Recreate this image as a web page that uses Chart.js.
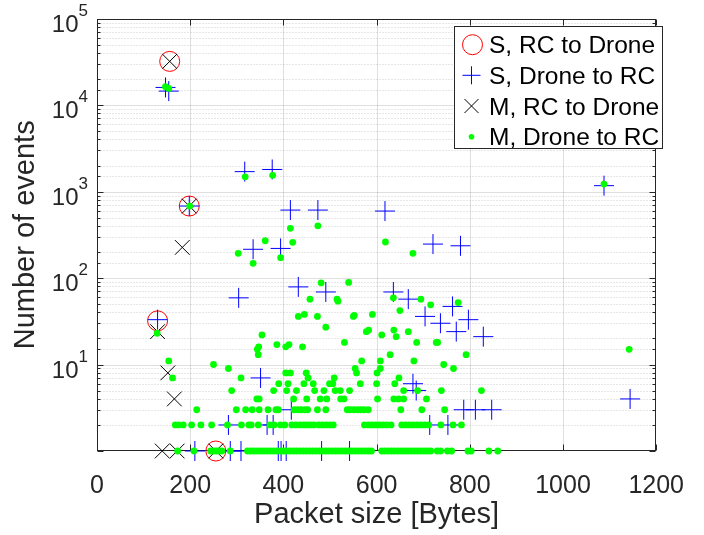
<!DOCTYPE html>
<html>
<head>
<meta charset="utf-8">
<script src="https://cdn.jsdelivr.net/npm/chart.js@4.4.0/dist/chart.umd.min.js"></script>
<style>
  html, body { margin: 0; padding: 0; background: #fff; }
</style>
</head>
<body>
<canvas id="chart" width="704" height="535"></canvas>
<script>
// S, RC to Drone (red circles)
const sRcX = [156, 198, 130, 255];
const sRcY = [32000, 680, 32, 1];

// S, Drone to RC (blue plus)
const sDroneX = [147, 154, 317, 376, 198, 415, 474, 618, 721, 780,
  335, 394, 130, 304, 432, 491, 636, 668, 763, 704,
  737, 797, 771, 829, 351, 678, 685, 417, 787, 812,
  847, 282, 365, 378, 714, 753, 210, 286, 309, 389,
  395, 406, 482, 542, 1088, 1144];
const sDroneY = [16000, 14500, 1700, 1800, 680, 611, 611, 595, 247, 236,
  215, 220, 33, 59, 79, 69, 69, 57, 47, 36,
  30, 33, 24, 21, 7, 6, 5, 3, 3, 3,
  3, 2, 2, 2, 2, 2, 1, 1, 1, 1,
  1, 1, 1, 1, 1170, 4];

// M, RC to Drone (black x)
const mRcX = [156, 198, 130, 183, 152, 166, 140, 172, 255];
const mRcY = [32000, 680, 24, 226, 8, 4, 1, 1, 1];

// M, Drone to RC (green dots), scattered ones
const mDroneX = [147, 154, 318, 377, 199, 1088, 1142,
  415, 474, 361, 420, 619, 303, 678, 335, 394,
  481, 540, 457, 515, 517, 636, 695, 716, 775, 650,
  432, 445, 473, 550, 552, 591, 491, 578, 583, 611, 637, 642, 668, 354, 129,
  347, 344, 346, 386, 405, 412, 441, 531, 686, 728, 731, 629, 792,
  154, 250, 282, 568, 608, 680, 744, 765, 554, 557, 601, 608,
  162, 309, 405, 415, 449, 453, 648, 509];
const mDroneY = [16300, 15600, 1480, 1540, 680, 1220, 15,
  376, 402, 270, 259, 261, 193, 193, 148, 172,
  88, 89, 57, 57, 54, 59, 57, 49, 52, 42,
  36, 38, 36, 36, 37, 38, 27, 24, 25, 22, 25, 21, 24, 22, 23,
  16, 15, 13, 17, 16, 17, 16, 18, 18, 18, 18, 13, 13,
  11, 10, 9, 11, 11, 11, 10, 9, 9, 8, 8, 9,
  7, 7, 8, 8, 8, 7, 7, 7];

// green dots sitting on the low count rows
const mDroneAt6 = [390, 410, 444, 464, 499, 506, 565, 600, 639];
const mDroneAt5 = [289, 379, 407, 428, 467, 487, 511, 522, 542, 658, 688, 739, 825];
const mDroneAt4 = [343, 348, 422, 450, 479, 493, 523, 530, 602, 637, 647, 658, 707];
const mDroneAt3 = [214, 299, 319, 333, 348, 367, 384, 389, 423, 431, 438, 446, 452, 473, 491,
  537, 543, 551, 559, 566, 573, 582, 652, 697, 746];
const mDroneAt2 = [168, 175, 185, 203, 223, 246, 280, 310, 326, 331, 346, 371, 380, 394, 403,
  418, 427, 436, 444, 451, 458, 465, 476, 484, 492, 500, 507, 574, 582, 590,
  598, 606, 614, 622, 631, 654, 662, 670, 678, 687, 695, 703, 712, 738, 764, 782];
const mDroneAt1 = [173, 208, 244, 250, 256, 262, 268, 286,
  323, 330, 337, 344, 351, 358, 365, 372, 379, 386, 393, 400, 407, 414, 421, 428,
  435, 442, 449, 456, 463, 470, 477, 484, 491, 498, 505, 512, 519, 526, 533, 540,
  547, 554, 561, 568, 575, 582, 589, 611, 618, 625, 632, 639, 646, 653, 660, 667,
  674, 681, 688, 695, 702, 709, 716, 730, 737, 752, 761, 796, 803, 841, 860];

const xTicks = [0, 200, 400, 600, 800, 1000, 1200];
const yDecades = [10, 100, 1000, 10000, 100000];

const AXIS = "#262626";
const FONT = "'Liberation Sans', Arial, Helvetica, sans-serif";

function pairs(xs, ys) {
  return xs.map((x, i) => ({ x, y: ys[i] }));
}

function row(xs, y) {
  return xs.map((x) => ({ x, y }));
}

const greenPoints = pairs(mDroneX, mDroneY)
  .concat(row(mDroneAt6, 6), row(mDroneAt5, 5), row(mDroneAt4, 4))
  .concat(row(mDroneAt3, 3), row(mDroneAt2, 2), row(mDroneAt1, 1));

function isDecade(v) {
  const l = Math.log10(v);
  return Math.abs(l - Math.round(l)) < 1e-9;
}

// grid, box and inward ticks, MATLAB style
const axesPlugin = {
  id: "axesBox",
  beforeDatasetsDraw(chart) {
    const { ctx, chartArea: a, scales: { x, y } } = chart;
    const L = Math.round(a.left) + 0.5, R = Math.round(a.right) - 0.5;
    const T = Math.round(a.top) + 0.5, B = Math.round(a.bottom) - 0.5;
    ctx.save();
    ctx.lineWidth = 1;

    y.ticks.forEach((t) => {
      const py = Math.round(y.getPixelForValue(t.value)) + 0.5;
      if (py <= T + 1 || py >= B - 1) return;
      ctx.beginPath();
      if (isDecade(t.value)) {
        ctx.setLineDash([]);
        ctx.strokeStyle = "rgba(38,38,38,0.15)";
      } else {
        ctx.setLineDash([1, 2]);
        ctx.strokeStyle = "rgba(38,38,38,0.22)";
      }
      ctx.moveTo(L, py);
      ctx.lineTo(R, py);
      ctx.stroke();
    });
    ctx.setLineDash([]);
    ctx.strokeStyle = "rgba(38,38,38,0.15)";
    x.ticks.forEach((t) => {
      const px = Math.round(x.getPixelForValue(t.value)) + 0.5;
      if (px <= L + 1 || px >= R - 1) return;
      ctx.beginPath();
      ctx.moveTo(px, T);
      ctx.lineTo(px, B);
      ctx.stroke();
    });

    // box
    ctx.strokeStyle = AXIS;
    ctx.strokeRect(L, T, R - L, B - T);

    // inward ticks
    ctx.beginPath();
    y.ticks.forEach((t) => {
      const py = Math.round(y.getPixelForValue(t.value)) + 0.5;
      const len = isDecade(t.value) ? 6 : 3;
      ctx.moveTo(L, py); ctx.lineTo(L + len, py);
      ctx.moveTo(R, py); ctx.lineTo(R - len, py);
    });
    x.ticks.forEach((t) => {
      const px = Math.round(x.getPixelForValue(t.value)) + 0.5;
      ctx.moveTo(px, B); ctx.lineTo(px, B - 6);
      ctx.moveTo(px, T); ctx.lineTo(px, T + 6);
    });
    ctx.stroke();

    // y labels as 10^n
    ctx.fillStyle = AXIS;
    ctx.textAlign = "right";
    ctx.textBaseline = "alphabetic";
    yDecades.forEach((v) => {
      const py = y.getPixelForValue(v);
      const exp = String(Math.round(Math.log10(v)));
      ctx.font = `17px ${FONT}`;
      const ew = ctx.measureText(exp).width;
      ctx.fillText(exp, 88, py - 3);
      ctx.font = `24px ${FONT}`;
      ctx.fillText("10", 88 - ew, py + 13);
    });
    ctx.restore();
  }
};

const legendPlugin = {
  id: "boxLegend",
  afterDraw(chart) {
    const { ctx } = chart;
    const labels = chart.data.datasets.map((d) => d.label);
    ctx.save();
    ctx.fillStyle = "#fff";
    ctx.fillRect(454.5, 26.5, 208, 122);
    ctx.strokeStyle = AXIS;
    ctx.lineWidth = 1;
    ctx.strokeRect(454.5, 26.5, 208, 122);

    const mx = 471.5;
    const rows = [44.7, 75.3, 106, 136.7];
    // circle
    ctx.strokeStyle = "#ff0000";
    ctx.beginPath();
    ctx.arc(mx + 1, rows[0], 10, 0, Math.PI * 2);
    ctx.stroke();
    // plus
    ctx.strokeStyle = "#0000ff";
    ctx.beginPath();
    ctx.moveTo(mx - 9, rows[1]); ctx.lineTo(mx + 9, rows[1]);
    ctx.moveTo(mx, rows[1] - 9); ctx.lineTo(mx, rows[1] + 9);
    ctx.stroke();
    // x
    ctx.strokeStyle = "#000";
    ctx.beginPath();
    ctx.moveTo(mx - 7, rows[2] - 7); ctx.lineTo(mx + 7, rows[2] + 7);
    ctx.moveTo(mx + 7, rows[2] - 7); ctx.lineTo(mx - 7, rows[2] + 7);
    ctx.stroke();
    // dot
    ctx.fillStyle = "#00ff00";
    ctx.beginPath();
    ctx.arc(mx, rows[3], 2.8, 0, Math.PI * 2);
    ctx.fill();

    ctx.fillStyle = "#000";
    ctx.font = `24.5px ${FONT}`;
    ctx.textAlign = "left";
    ctx.textBaseline = "alphabetic";
    labels.forEach((text, i) => ctx.fillText(text, 489, rows[i] + 8.6));
    ctx.restore();
  }
};

new Chart(document.getElementById("chart"), {
  type: "scatter",
  data: {
    datasets: [
      {
        label: "S, RC to Drone",
        data: pairs(sRcX, sRcY),
        pointStyle: "circle",
        pointRadius: 10,
        borderColor: "#ff0000",
        backgroundColor: "rgba(0,0,0,0)",
        borderWidth: 1,
        order: 3,
        clip: false
      },
      {
        label: "S, Drone to RC",
        data: pairs(sDroneX, sDroneY),
        pointStyle: "cross",
        pointRadius: 10,
        borderColor: "#0000ff",
        backgroundColor: "#0000ff",
        borderWidth: 1,
        order: 2,
        clip: false
      },
      {
        label: "M, RC to Drone",
        data: pairs(mRcX, mRcY),
        pointStyle: "crossRot",
        pointRadius: 10.4,
        borderColor: "#000000",
        backgroundColor: "#000000",
        borderWidth: 1,
        order: 1,
        clip: false
      },
      {
        label: "M, Drone to RC",
        data: greenPoints,
        pointStyle: "circle",
        pointRadius: 3.4,
        borderWidth: 0,
        borderColor: "#00ff00",
        backgroundColor: "#00ff00",
        order: 0,
        clip: false
      }
    ]
  },
  options: {
    responsive: false,
    animation: false,
    events: [],
    devicePixelRatio: 1,
    layout: { padding: { left: 0, right: 32, top: 18.6, bottom: 0 } },
    plugins: { legend: { display: false }, tooltip: { enabled: false } },
    scales: {
      x: {
        type: "linear",
        min: 0,
        max: 1200,
        afterBuildTicks: (scale) => { scale.ticks = xTicks.map((v) => ({ value: v })); },
        afterFit: (scale) => { scale.height = 84; },
        grid: { display: false, drawTicks: false },
        border: { display: false },
        ticks: {
          padding: 20,
          color: AXIS,
          font: { family: FONT, size: 25 },
          callback: (v) => String(v)
        },
        title: {
          display: true,
          text: "Packet size [Bytes]",
          color: AXIS,
          font: { family: FONT, size: 29 },
          padding: { top: 0, bottom: 3 }
        }
      },
      y: {
        type: "logarithmic",
        min: 1,
        max: 100000,
        afterFit: (scale) => { scale.width = 97; },
        grid: { display: false, drawTicks: false },
        border: { display: false },
        ticks: { display: false, autoSkip: false },
        title: {
          display: true,
          text: "Number of events",
          color: AXIS,
          font: { family: FONT, size: 29 },
          padding: { top: 9, bottom: 0 }
        }
      }
    }
  },
  plugins: [axesPlugin, legendPlugin]
});
</script>
</body>
</html>
